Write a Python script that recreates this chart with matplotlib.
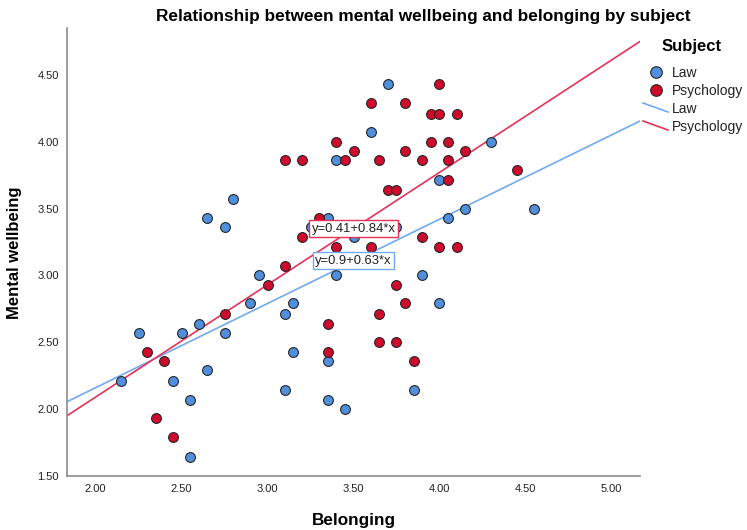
import numpy as np
import matplotlib
matplotlib.use("Agg")
import matplotlib.pyplot as plt

plt.rcParams['font.family'] = ['Liberation Sans', 'DejaVu Sans']

# Law group (belonging, wellbeing)
law_x = [2.15, 2.25, 2.45, 2.50, 2.55, 2.55, 2.60, 2.65, 2.65, 2.75, 2.75, 2.80,
         2.90, 2.95, 3.10, 3.10, 3.15, 3.15, 3.25, 3.35, 3.35, 3.35, 3.40, 3.40,
         3.45, 3.50, 3.60, 3.70, 3.75, 3.85, 3.90, 4.00, 4.00, 4.05, 4.15, 4.30, 4.55]
law_y = [2.21, 2.57, 2.21, 2.57, 2.07, 1.64, 2.64, 2.29, 3.43, 3.36, 2.57, 3.57,
         2.79, 3.00, 2.71, 2.14, 2.79, 2.43, 3.36, 3.43, 2.36, 2.07, 3.86, 3.00,
         2.00, 3.29, 4.07, 4.43, 3.36, 2.14, 3.00, 3.71, 2.79, 3.43, 3.50, 4.00, 3.50]

# Psychology group
psy_x = [2.30, 2.35, 2.40, 2.45, 2.75, 3.00, 3.10, 3.10, 3.20, 3.20, 3.30, 3.35,
         3.35, 3.40, 3.40, 3.45, 3.50, 3.60, 3.60, 3.65, 3.65, 3.65, 3.70, 3.75,
         3.75, 3.75, 3.80, 3.80, 3.80, 3.85, 3.90, 3.90, 3.95, 3.95, 4.00, 4.00,
         4.00, 4.05, 4.05, 4.05, 4.10, 4.10, 4.15, 4.45]
psy_y = [2.43, 1.93, 2.36, 1.79, 2.71, 2.93, 3.07, 3.86, 3.86, 3.29, 3.43, 2.64,
         2.43, 4.00, 3.21, 3.86, 3.93, 4.29, 3.21, 3.86, 2.71, 2.50, 3.64, 3.64,
         2.93, 2.50, 4.29, 3.93, 2.79, 2.36, 3.86, 3.29, 4.21, 4.00, 4.43, 4.21,
         3.21, 4.00, 3.86, 3.71, 4.21, 3.21, 3.93, 3.79]

# fit lines (intercept, slope) as printed on the chart
law_fit = (0.9, 0.63)
psy_fit = (0.41, 0.84)

x_ticks = [2.00, 2.50, 3.00, 3.50, 4.00, 4.50, 5.00]
y_ticks = [1.50, 2.00, 2.50, 3.00, 3.50, 4.00, 4.50]

law_col = '#4f8fdc'
psy_col = '#cf0a2c'
law_line = '#72a9ef'
psy_line = '#e5325a'

W, H = 747, 530
fig = plt.figure(figsize=(W / 100, H / 100), dpi=100)
ax = fig.add_axes([67 / W, 1 - 476 / H, (640 - 67) / W, (476 - 28) / H])

xlim = (1.834, 5.166)
ax.set_xlim(*xlim)
ax.set_ylim(1.5, 4.85)

xs = np.array(xlim)
ax.plot(xs, law_fit[0] + law_fit[1] * xs, color=law_line, lw=1.2, zorder=2)
ax.plot(xs, psy_fit[0] + psy_fit[1] * xs, color=psy_line, lw=1.2, zorder=2)

ax.scatter(law_x, law_y, s=50, c=law_col, edgecolors='#262626', linewidths=0.8, zorder=3)
ax.scatter(psy_x, psy_y, s=50, c=psy_col, edgecolors='#262626', linewidths=0.8, zorder=3)

ax.text(3.50, 3.35, 'y=0.41+0.84*x', ha='center', va='center', fontsize=9.4, color='#222222', zorder=5,
        bbox=dict(boxstyle='square,pad=0.2', fc='white', ec=psy_line, lw=1))
ax.text(3.50, 3.11, 'y=0.9+0.63*x', ha='center', va='center', fontsize=9.4, color='#222222', zorder=5,
        bbox=dict(boxstyle='square,pad=0.2', fc='white', ec=law_line, lw=1))

ax.set_xticks(x_ticks)
ax.set_xticklabels(['%.2f' % v for v in x_ticks])
ax.set_yticks(y_ticks)
ax.set_yticklabels(['%.2f' % v for v in y_ticks])
ax.tick_params(length=0, labelsize=8, colors='#222222')
ax.tick_params(axis='y', pad=6)
ax.tick_params(axis='x', pad=6)
for s in ['top', 'right']:
    ax.spines[s].set_visible(False)
for s in ['left', 'bottom']:
    ax.spines[s].set_color('#8c8c8c')
    ax.spines[s].set_linewidth(1.2)

fig.text(423 / W, 1 - 17 / H, 'Relationship between mental wellbeing and belonging by subject',
         ha='center', va='center', fontsize=12.4, fontweight='bold')
fig.text(354 / W, 1 - 520 / H, 'Belonging', ha='center', va='center', fontsize=12.3, fontweight='bold')
fig.text(15 / W, 1 - 253 / H, 'Mental wellbeing', ha='center', va='center', rotation=90,
         fontsize=12, fontweight='bold')

# legend, drawn by hand in pixel coords
lg = fig.add_axes([0, 0, 1, 1], facecolor='none')
lg.set_xlim(0, W)
lg.set_ylim(H, 0)
lg.axis('off')
lg.text(662, 46, 'Subject', ha='left', va='center', fontsize=12, fontweight='bold')
lg.scatter([656], [72], s=70, c=law_col, edgecolors='#262626', linewidths=0.8)
lg.scatter([656], [90], s=70, c=psy_col, edgecolors='#262626', linewidths=0.8)
lg.plot([643, 668], [103, 112], color=law_line, lw=1.2)
lg.plot([643, 668], [121, 130], color=psy_line, lw=1.2)
for yy, lab in zip([73, 91, 109, 127], ['Law', 'Psychology', 'Law', 'Psychology']):
    lg.text(672, yy, lab, ha='left', va='center', fontsize=10, color='#222222')

fig.savefig('out.png', dpi=100)
